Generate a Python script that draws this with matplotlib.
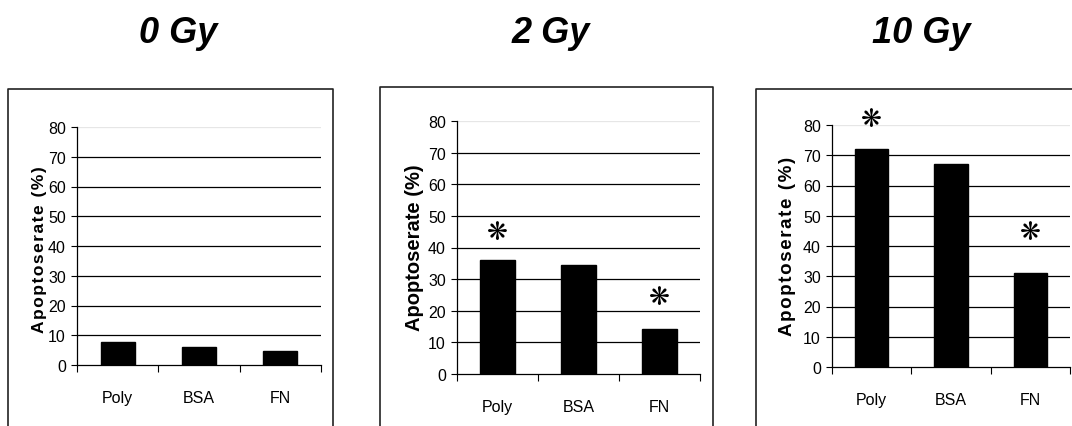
import matplotlib
matplotlib.use("Agg")
import matplotlib.pyplot as plt
from matplotlib.lines import Line2D

W, H = 1072, 427

# ---- data ----
categories = ["Poly", "BSA", "FN"]
titles = ["0 Gy", "2 Gy", "10 Gy"]
values_0gy = [7.8, 6.0, 4.8]
values_2gy = [36.0, 34.5, 14.2]
values_10gy = [72.0, 67.0, 31.0]
stars_2gy = [(0, 45.0), (2, 24.5)]
stars_10gy = [(0, 82.0), (2, 44.5)]
yticks = [0, 10, 20, 30, 40, 50, 60, 70, 80]
ylabel = "Apoptoserate (%)"

NARROW = ['Liberation Sans Narrow', 'Liberation Sans', 'DejaVu Sans']
REG = ['Liberation Sans', 'DejaVu Sans']

fig = plt.figure(figsize=(W / 100, H / 100), dpi=100)
fig.patch.set_facecolor("white")


def fx(px):
    return px / W


def fy(py):
    return 1 - py / H


def px_axes(left, right, top, bottom):
    return fig.add_axes([fx(left), fy(bottom), fx(right - left), (bottom - top) / H])


# axes pixel boxes: left, right, top(80), bottom(0)
axes_px = [(77, 321, 128, 366), (457, 700, 122, 375), (832, 1070, 126, 368)]
panel_boxes = [(8, 333, 90), (380, 713, 88), (756, 1090, 90)]
title_x = [178, 551, 921]
label_pos = [(40, 250, 12.5, True), (415, 248, 14.5, False), (788, 246, 13.5, True)]
all_values = [values_0gy, values_2gy, values_10gy]
all_stars = [[], stars_2gy, stars_10gy]

for i in range(3):
    l, r, t, b = axes_px[i]
    ax = px_axes(l, r, t, b)
    x = list(range(len(categories)))
    ax.bar(x, all_values[i], width=0.42, color="black", edgecolor="black", zorder=3)
    ax.set_xlim(-0.5, 2.5)
    ax.set_ylim(0, 80)
    ax.set_yticks(yticks)
    ax.set_yticklabels([str(v) for v in yticks], family=NARROW, fontsize=11.5)
    ax.tick_params(axis='y', direction='out', length=4, width=0.8, pad=4, colors='black')
    # x tick marks at category boundaries, labels at centers
    ax.set_xticks([-0.5, 0.5, 1.5, 2.5])
    ax.set_xticklabels([])
    ax.tick_params(axis='x', direction='out', length=5, width=0.8)
    ax.set_xticks(x, minor=True)
    ax.set_xticklabels(categories, minor=True, family=NARROW, fontsize=11.5)
    ax.tick_params(axis='x', which='minor', length=0, pad=18)
    # grid lines
    for v in yticks[1:-1]:
        ax.axhline(v, color='black', lw=0.9, zorder=1)
    ax.axhline(80, color='#e6e6e6', lw=0.9, zorder=1)
    for s in ['top', 'right']:
        ax.spines[s].set_visible(False)
    for s in ['left', 'bottom']:
        ax.spines[s].set_linewidth(0.9)
        ax.spines[s].set_zorder(4)
    for xi, yv in all_stars[i]:
        ax.text(xi, yv, "\u274b", ha='center', va='center', fontsize=18,
                family=['DejaVu Sans'], clip_on=False, zorder=5)

    # y label
    lx, ly, lfs, spaced = label_pos[i]
    txt = ("\u200a".join(ylabel)) if spaced else ylabel
    fig.text(fx(lx), fy(ly), txt, rotation=90, ha='center', va='center',
             fontsize=lfs, fontweight='bold', family=NARROW)

    # panel frame
    bl, br, bt = panel_boxes[i]
    fig.add_artist(Line2D([fx(bl), fx(bl), fx(br), fx(br)],
                          [fy(H + 20), fy(bt), fy(bt), fy(H + 20)],
                          transform=fig.transFigure, color='#222222', lw=1.2,
                          clip_on=False))

    # title
    fig.text(fx(title_x[i]), fy(43), titles[i], ha='center', va='baseline',
             fontsize=26, fontweight='bold', fontstyle='italic', family=REG)

fig.savefig("out.png", dpi=100, facecolor="white")
